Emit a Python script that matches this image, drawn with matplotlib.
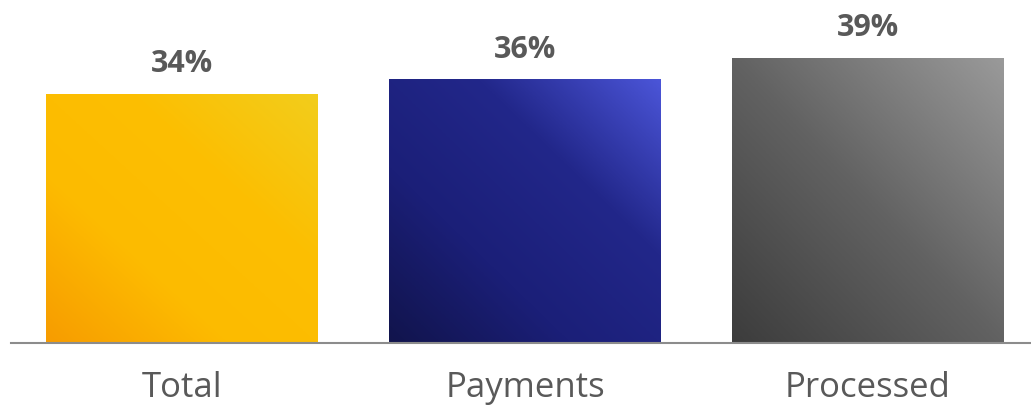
import matplotlib.pyplot as plt
import numpy as np
from matplotlib.colors import LinearSegmentedColormap

categories = ["Total", "Payments", "Processed"]
values = [34, 36, 39]
# gradient stops: bottom-left -> top-right
gradients = [
    ["#F79C00", "#FDBB00", "#FCBF02", "#F2CD1C"],
    ["#11144C", "#1B1F78", "#22278A", "#4B55D8"],
    ["#3C3C3C", "#626262", "#9A9A9A"],
]

plt.rcParams["font.family"] = ["Open Sans", "DejaVu Sans"]

fig = plt.figure(figsize=(10.31, 4.07), dpi=100)
ax = fig.add_axes([10.5 / 1031, 64 / 407, 1029 / 1031, 343 / 407])

bar_width = 0.793
x = np.arange(len(categories))
bars = ax.bar(x, values, width=bar_width, color="none", edgecolor="none")

# diagonal gradient field (bottom-left -> top-right)
gx, gy = np.meshgrid(np.linspace(0, 1, 200), np.linspace(0, 1, 200))
field = (gx + gy) / 2

for bar, stops in zip(bars, gradients):
    cmap = LinearSegmentedColormap.from_list("g", stops)
    x0, y0 = bar.get_x(), bar.get_y()
    w, h = bar.get_width(), bar.get_height()
    im = ax.imshow(field, cmap=cmap, extent=[x0, x0 + w, y0, y0 + h],
                   origin="lower", aspect="auto", zorder=2, vmin=0, vmax=1)
    im.set_clip_path(bar)

for xi, v in zip(x, values):
    ax.text(xi, v + 2.0, f"{v}%", ha="center", va="bottom",
            fontsize=22, fontweight="bold", color="#595959")

ax.set_xlim(-0.5, 2.5)
ax.set_ylim(0, 343 / 7.32)
ax.set_xticks(x)
ax.set_xticklabels(categories, fontsize=25, color="#595959")
ax.tick_params(axis="x", length=0, pad=20)
ax.set_yticks([])
for side in ["top", "right", "left"]:
    ax.spines[side].set_visible(False)
ax.spines["bottom"].set_color("#8C8C8C")
ax.spines["bottom"].set_linewidth(1.5)

fig.savefig("out.png", dpi=100)
